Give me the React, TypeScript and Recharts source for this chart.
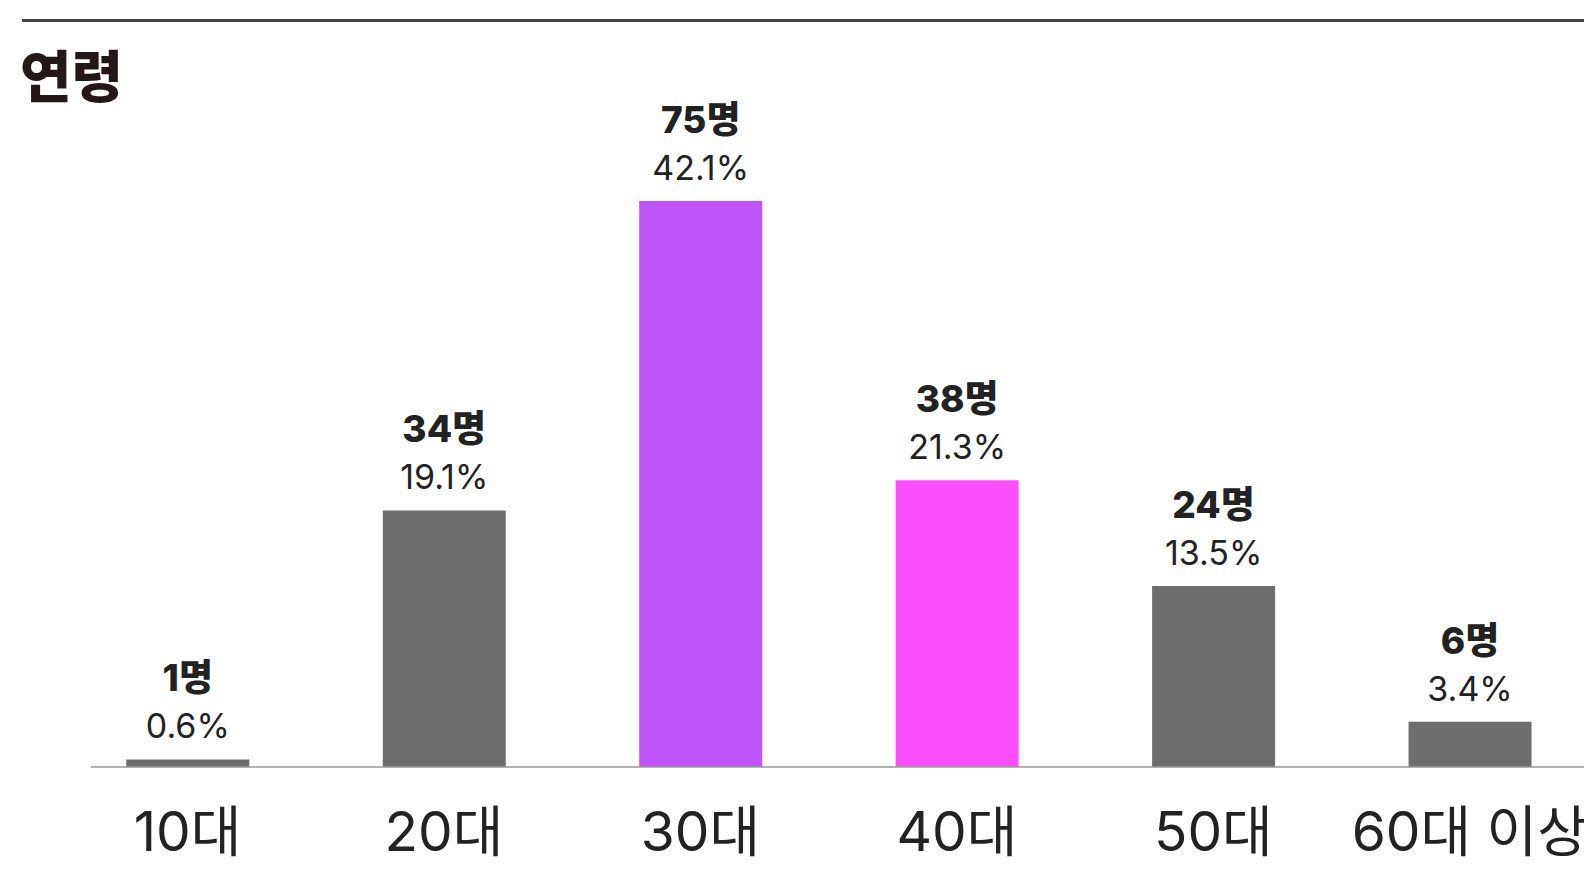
import React from 'react';
import { BarChart, Bar, XAxis, YAxis, Cell, LabelList } from 'recharts';

const categories = ['10대', '20대', '30대', '40대', '50대', '60대 이상'];
const counts = [1, 34, 75, 38, 24, 6];
const percents = ['0.6%', '19.1%', '42.1%', '21.3%', '13.5%', '3.4%'];
const barColors = ['#6e6e6e', '#6e6e6e', '#bf55f8', '#fc4ffc', '#6e6e6e', '#6e6e6e'];

const data = categories.map((name, i) => ({ name, count: counts[i], pct: percents[i] }));

const FONT = "Inter, 'Noto Sans CJK KR', sans-serif";

const renderLabel = (props: any) => {
  const { x, y, width, index } = props;
  const cx = Number(x) + Number(width) / 2;
  const top = Number(y);
  return (
    <g>
      <text x={cx} y={top - 68} textAnchor="middle" fontFamily={FONT} fontSize={37} fontWeight={800} fill="#222">
        {`${counts[index]}명`}
      </text>
      <text x={cx} y={top - 21} textAnchor="middle" fontFamily={FONT} fontSize={34} fontWeight={400} fill="#222">
        {percents[index]}
      </text>
    </g>
  );
};

const renderTick = (props: any) => {
  const { x, y, payload } = props;
  return (
    <text x={x} y={Number(y) + 76} textAnchor="middle" fontFamily={FONT} fontSize={55} fill="#222">
      {payload.value}
    </text>
  );
};

export default function App() {
  return (
    <div style={{ position: 'relative', width: 1584, height: 867, overflow: 'hidden', background: '#fff' }}>
      <div style={{ position: 'absolute', left: 14, top: 11, right: 0, height: 2.5, background: '#444' }} />
      <svg style={{ position: 'absolute', left: 0, top: 0 }} width={300} height={120}>
        <text x={12} y={89} fontFamily="'Noto Sans CJK KR', sans-serif" fontSize={56} fontWeight={900} fill="#231815">
          연령
        </text>
      </svg>
      <div style={{ position: 'absolute', left: 0, top: 0 }}>
        <BarChart
          width={1590}
          height={859}
          data={data}
          margin={{ top: 193, right: 0, bottom: 0, left: 83 }}
        >
          <YAxis hide domain={[0, 75]} />
          <XAxis
            dataKey="name"
            interval={0}
            height={100}
            tickLine={false}
            axisLine={{ stroke: '#999', strokeWidth: 1.5 }}
            tick={renderTick}
            padding={{ left: -31.7, right: 0 }}
          />
          <Bar dataKey="count" barSize={123} isAnimationActive={false}>
            {data.map((d, i) => (
              <Cell key={d.name} fill={barColors[i]} />
            ))}
            <LabelList dataKey="count" content={renderLabel} />
          </Bar>
        </BarChart>
      </div>
    </div>
  );
}
